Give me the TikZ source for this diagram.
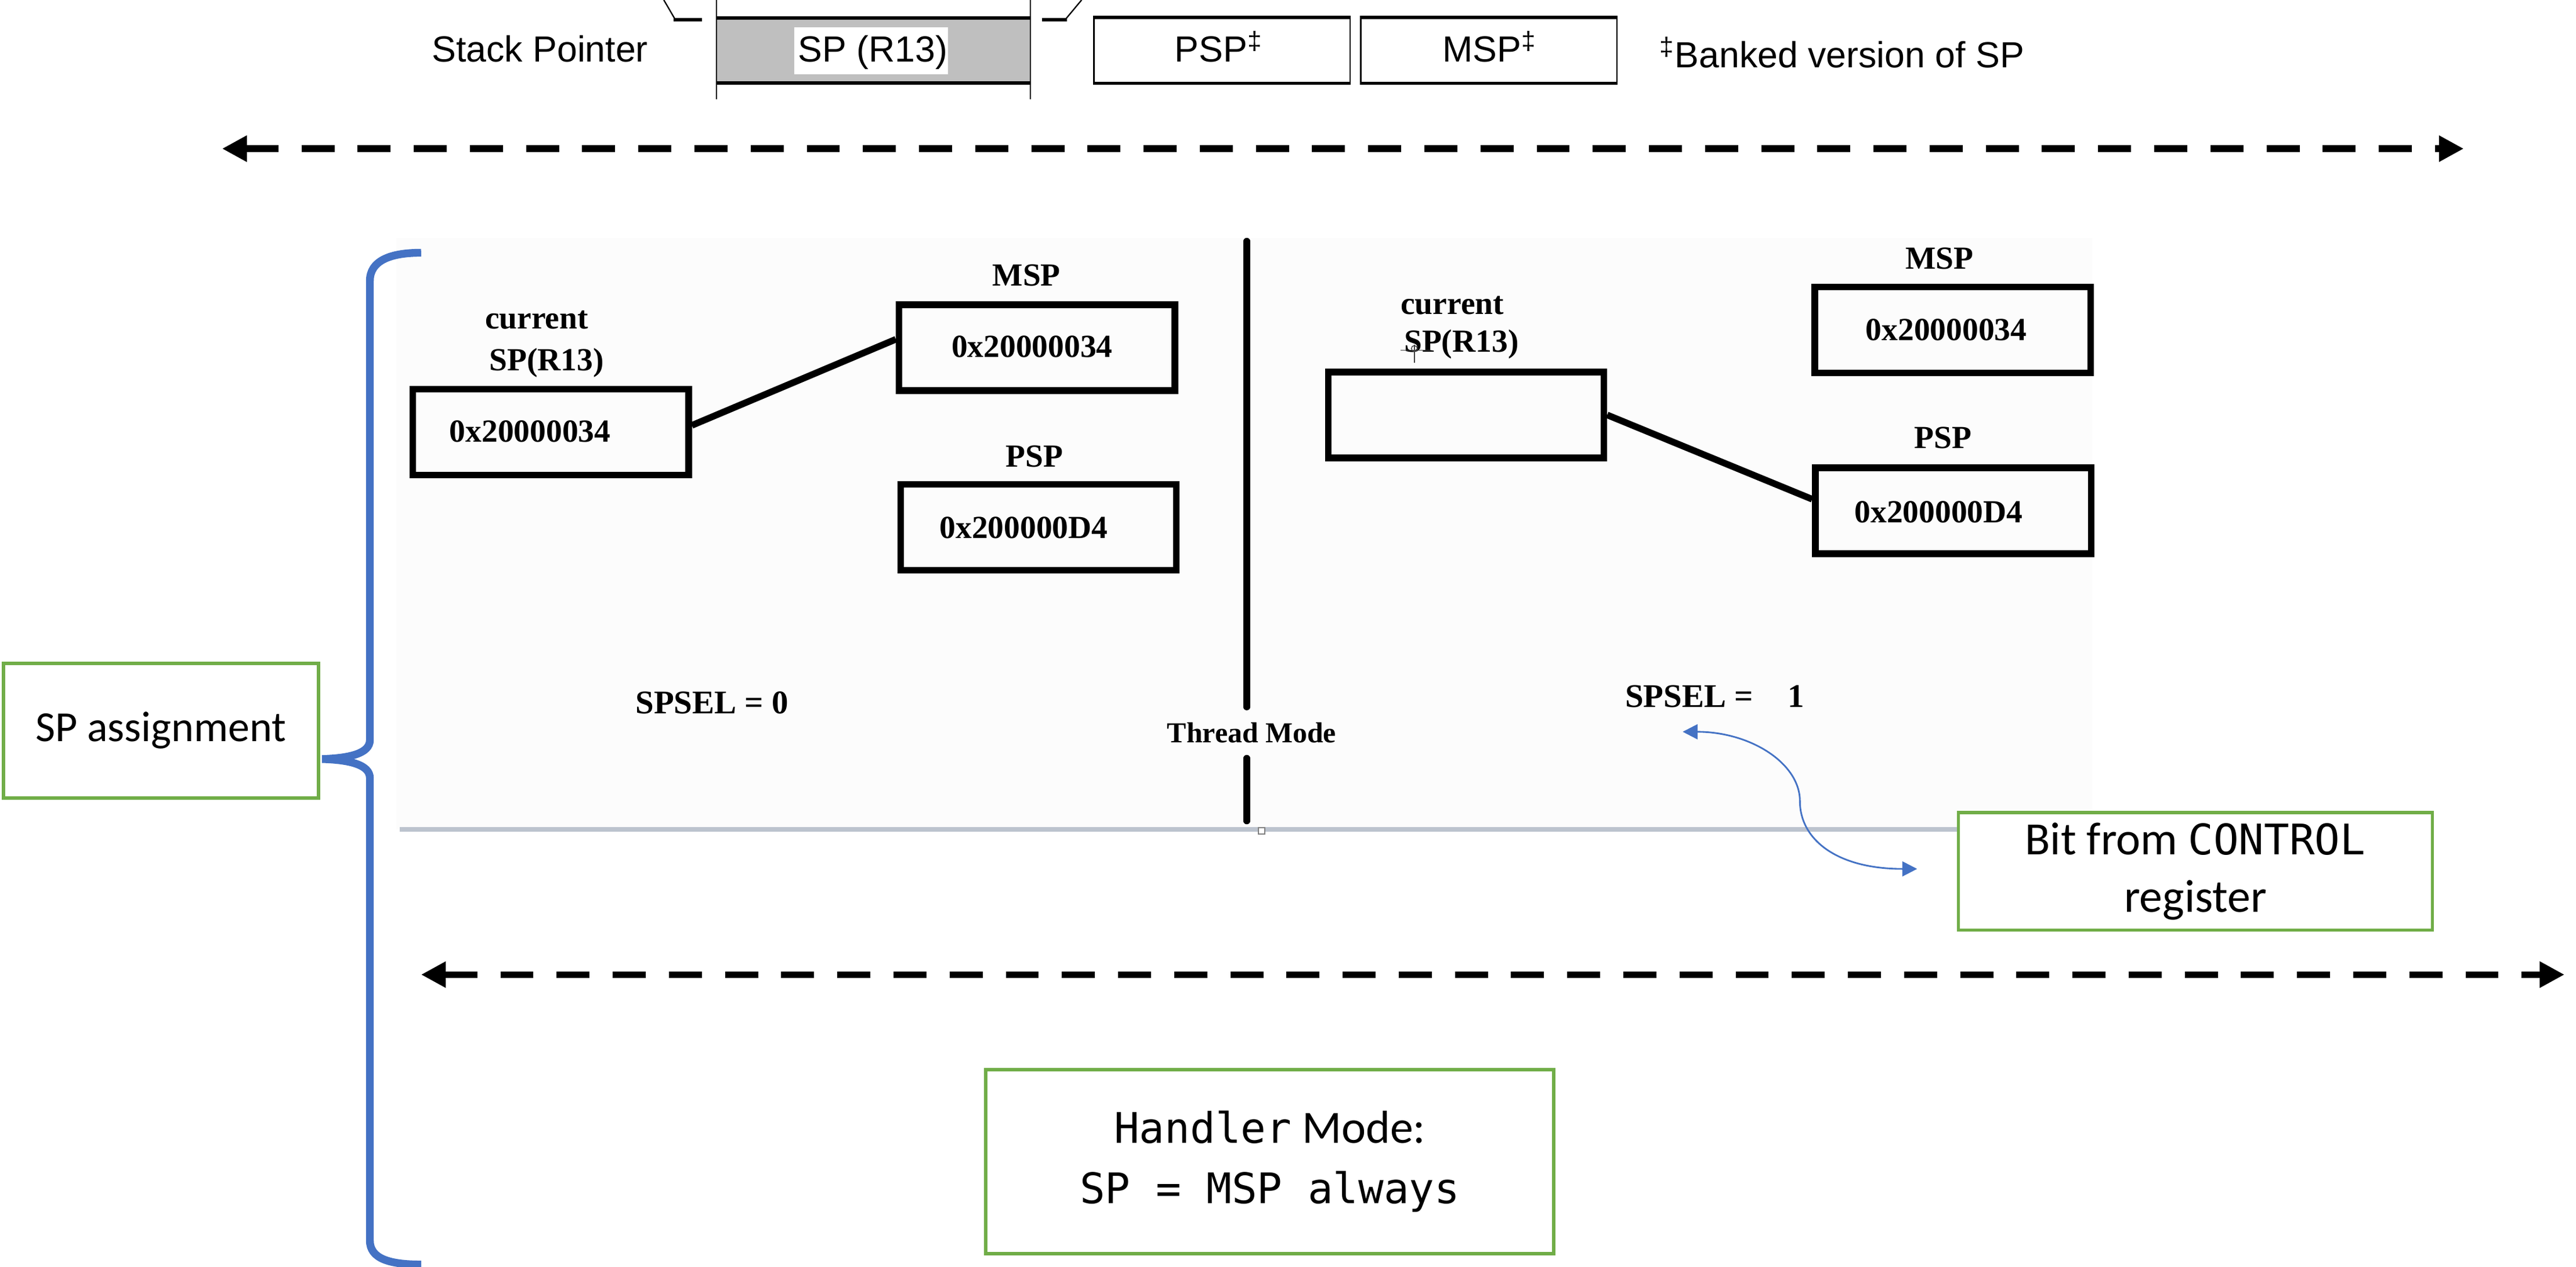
\documentclass[tikz,border=0pt]{standalone}
\usepackage{fontspec}
\setmainfont{Liberation Serif}
\newfontfamily\arialf{Liberation Sans}
\newfontfamily\calf{Carlito}
\newfontfamily\monof{DejaVu Sans Mono}
\usetikzlibrary{arrows.meta,calc}
\definecolor{offgreen}{HTML}{70AD47}
\definecolor{offblue}{HTML}{4472C4}
\definecolor{reggray}{HTML}{BFBFBF}
\definecolor{shotbg}{HTML}{FCFCFC}
\definecolor{shotline}{HTML}{BCC3CE}
\tikzset{
  topfont/.style={font=\arialf\fontsize{22}{26}\selectfont, inner sep=0pt},
  shot/.style={font=\bfseries\fontsize{19.5}{22}\selectfont, inner sep=0pt},
  valbox/.style={draw, line width=4pt, minimum width=167pt, minimum height=52pt, inner sep=0pt},
  regbox/.style={draw, line width=0.8pt, minimum width=155pt, minimum height=39pt, inner sep=0pt},
  link/.style={line width=4pt},
  greenbox/.style={draw=offgreen, line width=2pt, fill=white, inner sep=0pt, align=center},
  dasharrow/.style={line width=4pt, dash pattern=on 20pt off 14pt,
     {Triangle[length=15pt,width=15pt]}-{Triangle[length=15pt,width=15pt]}},
  bluearrow/.style={draw=offblue, line width=1pt,
     {Triangle[length=9pt,width=9pt]}-{Triangle[length=9pt,width=9pt]}}
}
\begin{document}
\begin{tikzpicture}[x=1pt,y=-1pt]
\useasboundingbox (0,0) rectangle (1560,767);
\fill[white] (0,0) rectangle (1560,767);

% ---------- top register strip ----------
\node[topfont, anchor=base] (stkptr) at (327,37.5) {Stack Pointer};
\node[fill=reggray, minimum width=190pt, minimum height=39pt, inner sep=0pt] (spbox) at (529,30.5) {};
\draw[line width=2pt] (spbox.north west) -- (spbox.north east);
\draw[line width=2pt] (spbox.south west) -- (spbox.south east);
\draw[line width=0.8pt] (434,0) -- (434,60);
\draw[line width=0.8pt] (624,0) -- (624,60);
\fill[white] (481,16.5) rectangle (574,45);
\node[topfont, anchor=base] (sptxt) at (528.5,37.5) {SP (R13)};
% brackets
\draw[line width=0.8pt] (402,0) -- (409,12);
\draw[line width=2pt] (408,12) -- (425,12);
\draw[line width=2pt] (631,12) -- (646,12);
\draw[line width=0.8pt] (645,12) -- (655,0);
% banked registers
\node[regbox] (pspreg) at (740,30.5) {};
\draw[line width=2pt] (pspreg.north west) -- (pspreg.north east);
\draw[line width=2pt] (pspreg.south west) -- (pspreg.south east);
\node[regbox] (mspreg) at (901.6,30.5) {};
\draw[line width=2pt] (mspreg.north west) -- (mspreg.north east);
\draw[line width=2pt] (mspreg.south west) -- (mspreg.south east);
\node[topfont, anchor=base] (psptxt) at (738,37.5) {PSP\textsuperscript{‡}};
\node[topfont, anchor=base] (msptxt) at (902,37.5) {MSP\textsuperscript{‡}};
\node[topfont, anchor=base west] (banked) at (1005,41) {\textsuperscript{‡}Banked version of SP};

% ---------- dashed arrows ----------
\coordinate (aOneL) at (134.5,90);
\coordinate (aOneR) at (1492,90);
\draw[dasharrow] (aOneL) -- (aOneR);
\coordinate (aTwoL) at (255,590);
\coordinate (aTwoR) at (1553,590);
\draw[dasharrow] (aTwoL) -- (aTwoR);

% ---------- screenshot area ----------
\fill[shotbg] (240,144) rectangle (1267,502);
\draw[shotline, line width=3pt] (242,502) -- (1267,502);
\draw[gray, line width=0.6pt, fill=white] (762,501) rectangle (766,505);

% left panel
\node[shot, anchor=base] (lcur) at (325,199) {current};
\node[shot, anchor=base] (lsp) at (331,224.2) {SP(R13)};
\node[valbox] (lbox) at (333.5,261.5) {};
\node[shot, anchor=base] (lboxv) at (321,267.5) {0x20000034};
\node[shot, anchor=base] (lmspl) at (621.6,173) {MSP};
\node[valbox] (lmsp) at (628,210.4) {};
\node[shot, anchor=base] (lmspv) at (625,216.3) {0x20000034};
\node[shot, anchor=base] (lpspl) at (626.5,282.5) {PSP};
\node[valbox] (lpsp) at (628.9,319.3) {};
\node[shot, anchor=base] (lpspv) at (620,325.8) {0x200000D4};
\draw[link] ([yshift=4pt]lbox.east) -- ([yshift=5pt]lmsp.west);
\node[shot, font=\bfseries\fontsize{20}{22}\selectfont, anchor=base west] (sel0) at (384.7,432) {SPSEL = 0};

% divider
\coordinate (dvA) at (755,146);
\coordinate (dvB) at (755,428);
\coordinate (dvC) at (755,459);
\coordinate (dvD) at (755,497);
\draw[line width=4pt, line cap=round] (dvA) -- (dvB);
\draw[line width=4pt, line cap=round] (dvC) -- (dvD);
\node[shot, font=\bfseries\fontsize{17.5}{20}\selectfont, anchor=base] (thread) at (758,449.6) {Thread Mode};

% right panel
\node[shot, anchor=base] (rcur) at (879.5,190.3) {current};
\node[shot, anchor=base] (rsp) at (885,213.1) {SP(R13)};
\node[valbox] (rbox) at (887.8,251.2) {};
\node[shot, anchor=base] (rmspl) at (1174.6,162.7) {MSP};
\node[valbox] (rmsp) at (1182.5,199.8) {};
\node[shot, anchor=base] (rmspv) at (1178.6,206) {0x20000034};
\node[shot, anchor=base] (rpspl) at (1176.7,271.4) {PSP};
\node[valbox] (rpsp) at (1182.9,309.2) {};
\node[shot, anchor=base] (rpspv) at (1174,316.4) {0x200000D4};
\draw[link] (rbox.east) -- ([yshift=7pt]rpsp.west);
\node[shot, font=\bfseries\fontsize{20}{22}\selectfont, anchor=base west] (sel1) at (984,428) {SPSEL =\hspace{21pt}1};
% cursor mark
\draw[black!75, line width=0.6pt] (856.5,208.6) -- (856.5,219.5);
\draw[black!75, line width=0.6pt] (848,212) -- (866,212);
\draw[black!75, line width=0.5pt] (856.5,211) circle (1.8);

% ---------- annotations ----------
\node[greenbox, minimum width=191pt, minimum height=81.5pt, font=\calf\fontsize{26}{30}\selectfont] (spassign) at (97.5,442.3) {SP assignment};
\draw[offblue, line width=4.7pt]
  (255,153) .. controls (236,153) and (224,158) .. (224,170)
  -- (224,448) .. controls (224,456) and (212,459) .. (195,459.5)
  .. controls (212,460) and (224,463) .. (224,471)
  -- (224,751) .. controls (224,762) and (236,765.5) .. (255,765.5);

\node[greenbox, minimum width=287pt, minimum height=71pt, font=\calf\fontsize{28}{34.5}\selectfont] (ctrlbit) at (1329.5,527.5) {Bit from {\monof\fontsize{25.5}{34.5}\selectfont CONTROL}\\register};
\coordinate (bcA) at (1019,443);
\coordinate (bcB) at (1161,526);
\draw[bluearrow] (bcA) .. controls (1060,443) and (1090,462) .. (1090,485)
  .. controls (1090,508) and (1112,526) .. (bcB);

\node[greenbox, minimum width=344pt, minimum height=111.5pt, font=\calf\fontsize{28}{36.5}\selectfont] (handler) at (769,703.2)
  {{\monof\fontsize{25.5}{36.5}\selectfont Handler} Mode:\\{\monof\fontsize{25.5}{36.5}\selectfont SP = MSP always}};
\end{tikzpicture}
\end{document}
